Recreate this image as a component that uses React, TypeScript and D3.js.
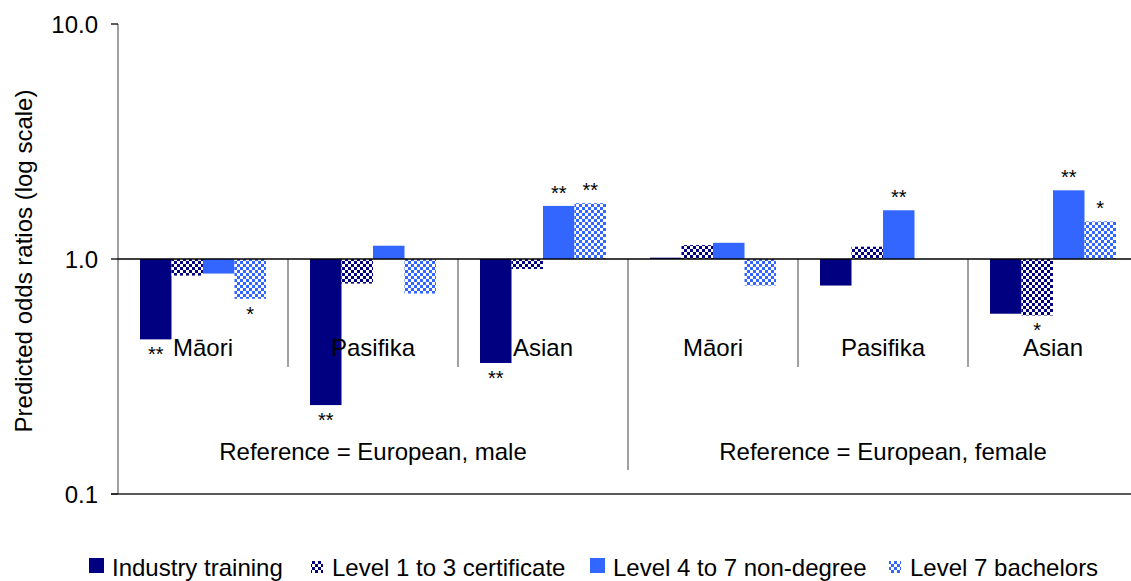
import React from "react";
import * as d3 from "d3";

// Predicted odds ratios by ethnicity and qualification type (log scale)
const categories = ["Māori", "Pasifika", "Asian", "Māori", "Pasifika", "Asian"];
const groupLabels = ["Reference = European, male", "Reference = European, female"];
const seriesNames = [
  "Industry training",
  "Level 1 to 3 certificate",
  "Level 4 to 7 non-degree",
  "Level 7 bachelors",
];

const industryTraining = [0.455, 0.239, 0.361, 1.013, 0.771, 0.585];
const level1to3 = [0.85, 0.786, 0.907, 1.146, 1.128, 0.575];
const level4to7 = [0.867, 1.139, 1.682, 1.172, 1.612, 1.96];
const bachelors: (number | null)[] = [0.677, 0.713, 1.727, 0.771, null, 1.445];

// Significance markers
const industryStars = ["**", "**", "**", "", "", ""];
const level1to3Stars = ["", "", "", "", "", "*"];
const level4to7Stars = ["", "", "**", "", "**", "**"];
const bachelorsStars = ["*", "", "**", "", "", "*"];

const yTicks = [0.1, 1, 10];

const W = 1131;
const H = 581;
const left = 118;
const bandW = 170;
const top = 24;
const bottom = 494;
const FONT = "'Liberation Sans', Arial, sans-serif";

const NAVY = "#000080";
const BLUE = "#3366FF";

export default function App() {
  const values = [industryTraining, level1to3, level4to7, bachelors];
  const stars = [industryStars, level1to3Stars, level4to7Stars, bachelorsStars];
  const fills = [NAVY, "url(#checkNavy)", BLUE, "url(#checkBlue)"];

  const x0 = d3
    .scaleBand<number>()
    .domain(d3.range(categories.length))
    .range([left, left + bandW * categories.length])
    .padding(0);
  const x1 = d3
    .scaleBand<number>()
    .domain(d3.range(seriesNames.length))
    .range([22, 148])
    .padding(0);
  const y = d3.scaleLog().domain([0.1, 10]).range([bottom, top]);
  const y1 = y(1);
  const fmt = d3.format(".1f");
  const right = W + 10;

  const legendX = [89, 309, 590, 887];

  return (
    <svg
      width={W}
      height={H}
      style={{ position: "absolute", left: 0, top: 0, background: "#fff" }}
      fontFamily={FONT}
    >
      <defs>
        <pattern id="checkNavy" patternUnits="userSpaceOnUse" width={6} height={6}>
          <rect width={6} height={6} fill={NAVY} />
          <rect x={0} y={0} width={3} height={3} fill="#fff" />
          <rect x={3} y={3} width={3} height={3} fill="#fff" />
        </pattern>
        <pattern id="checkBlue" patternUnits="userSpaceOnUse" width={6} height={6}>
          <rect width={6} height={6} fill={BLUE} />
          <rect x={0} y={0} width={3} height={3} fill="#fff" />
          <rect x={3} y={3} width={3} height={3} fill="#fff" />
        </pattern>
      </defs>

      {/* y axis */}
      <line x1={left} x2={left} y1={top} y2={bottom} stroke="#808080" strokeWidth={1.5} />
      {yTicks.map((t) => (
        <g key={t}>
          <line x1={left - 7} x2={left} y1={y(t)} y2={y(t)} stroke="#000" strokeWidth={1.3} />
          <text
            x={left - 20}
            y={y(t)}
            textAnchor="end"
            dominantBaseline="central"
            fontSize={24}
            fill="#000"
          >
            {fmt(t)}
          </text>
        </g>
      ))}
      <text
        transform={`translate(32,${(top + bottom) / 2 + 2}) rotate(-90)`}
        textAnchor="middle"
        fontSize={24}
        fill="#000"
      >
        Predicted odds ratios (log scale)
      </text>

      {/* category dividers */}
      {d3.range(1, categories.length).map((i) => {
        const xx = x0(i)!;
        const isGroup = i === 3;
        return (
          <line
            key={i}
            x1={xx}
            x2={xx}
            y1={y1}
            y2={isGroup ? 470 : 367}
            stroke="#808080"
            strokeWidth={1.5}
          />
        );
      })}

      {/* bars */}
      {values.map((vals, s) =>
        vals.map((v, c) => {
          if (v == null) return null;
          const bx = x0(c)! + x1(s)!;
          const yy = y(v);
          return (
            <rect
              key={`${s}-${c}`}
              x={bx}
              y={Math.min(yy, y1)}
              width={x1.bandwidth()}
              height={Math.abs(yy - y1)}
              fill={fills[s]}
            />
          );
        })
      )}

      {/* significance stars */}
      {stars.map((arr, s) =>
        arr.map((st, c) => {
          const v = values[s][c];
          if (!st || v == null) return null;
          const cx = x0(c)! + x1(s)! + x1.bandwidth() / 2;
          const yy = y(v);
          const ty = v < 1 ? yy + 22 : yy - 6;
          return (
            <text key={`st-${s}-${c}`} x={cx} y={ty} textAnchor="middle" fontSize={20} fill="#000">
              {st}
            </text>
          );
        })
      )}

      {/* baseline at 1.0 and bottom frame */}
      <line x1={left} x2={right} y1={y1} y2={y1} stroke="#000" strokeWidth={1.5} />
      <line x1={left - 7} x2={right} y1={bottom} y2={bottom} stroke="#222" strokeWidth={1.5} />

      {/* category labels */}
      {categories.map((c, i) => (
        <text
          key={`cat-${i}`}
          x={x0(i)! + bandW / 2}
          y={356}
          textAnchor="middle"
          fontSize={24}
          fill="#000"
        >
          {c}
        </text>
      ))}

      {/* group labels */}
      {groupLabels.map((g, i) => (
        <text
          key={g}
          x={x0(i * 3)! + (bandW * 3) / 2}
          y={460}
          textAnchor="middle"
          fontSize={24}
          fill="#000"
        >
          {g}
        </text>
      ))}

      {/* legend */}
      {seriesNames.map((name, s) => {
        const lx = legendX[s];
        const patterned = s === 1 || s === 3;
        const size = patterned ? 12 : 15;
        return (
          <g key={name}>
            <rect
              x={lx + (patterned ? 2 : 0)}
              y={patterned ? 561 : 558}
              width={size}
              height={size}
              fill={fills[s]}
            />
            <text x={lx + 23} y={576} fontSize={24} fill="#000">
              {name}
            </text>
          </g>
        );
      })}
    </svg>
  );
}
